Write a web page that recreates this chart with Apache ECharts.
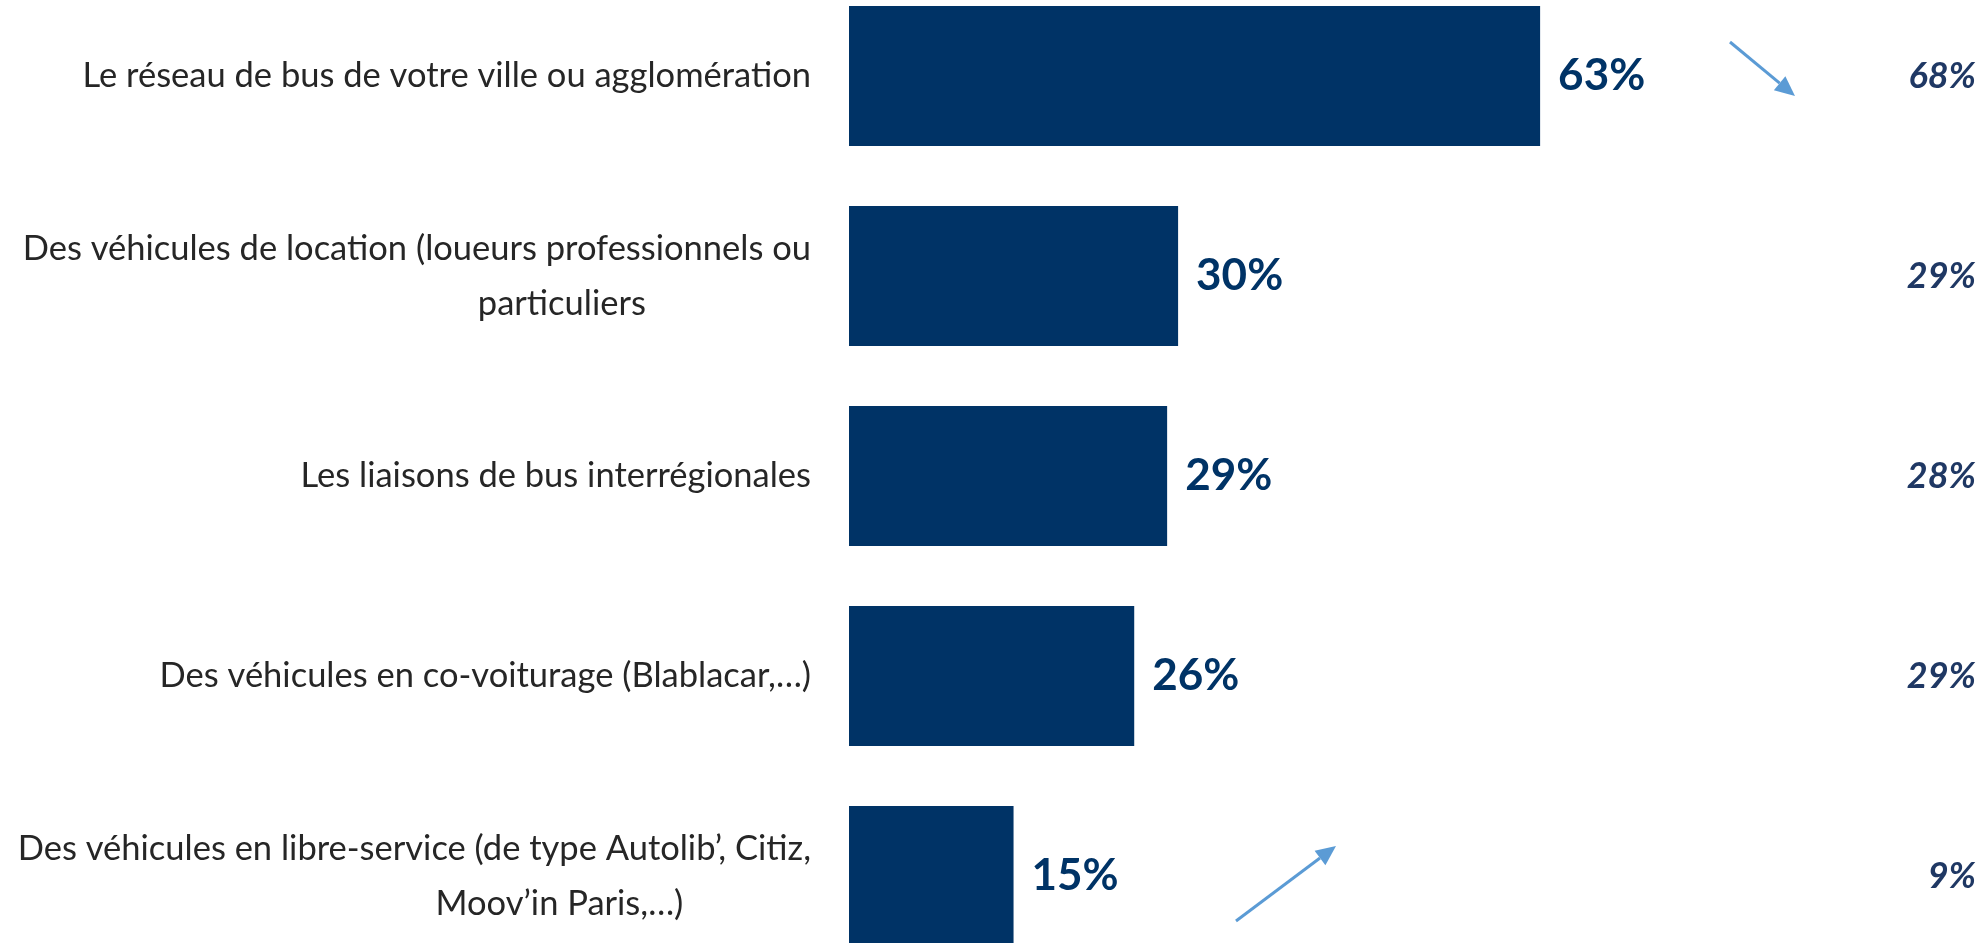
<!DOCTYPE html>
<html>
<head>
<meta charset="utf-8">
<script src="https://cdn.jsdelivr.net/npm/echarts@6/dist/echarts.min.js"></script>
<style>
  html, body { margin: 0; padding: 0; background: #fff; }
  #chart { width: 1986px; height: 943px; }
</style>
</head>
<body>
<div id="chart"></div>
<script>
const categories = [
  'Le réseau de bus de votre ville ou agglomération',
  'Des véhicules de location (loueurs professionnels ou\nparticuliers',
  'Les liaisons de bus interrégionales',
  'Des véhicules en co-voiturage (Blablacar,…)',
  'Des véhicules en libre-service (de type Autolib’, Citiz,\nMoov’in Paris,…)'
];
const current = [63, 30, 29, 26, 15];
const previous = [68, 29, 28, 29, 9];

const chart = echarts.init(document.getElementById('chart'));

// petite flèche (ligne + pointe)
function arrow(x1, y1, x2, y2) {
  const a = Math.atan2(y2 - y1, x2 - x1);
  const L = 20, W = 9;
  const bx = x2 - L * Math.cos(a), by = y2 - L * Math.sin(a);
  return [
    {
      type: 'line',
      shape: { x1: x1, y1: y1, x2: bx, y2: by },
      style: { stroke: '#5b9bd5', lineWidth: 3 }
    },
    {
      type: 'polygon',
      shape: {
        points: [
          [x2, y2],
          [bx + W * Math.sin(a), by - W * Math.cos(a)],
          [bx - W * Math.sin(a), by + W * Math.cos(a)]
        ]
      },
      style: { fill: '#5b9bd5' }
    }
  ];
}

const option = {
  backgroundColor: '#fff',
  animation: false,
  grid: { left: 849, top: -24, width: 1097, height: 1000, outerBoundsMode: 'none' },
  xAxis: { type: 'value', min: 0, max: 100, show: false },
  yAxis: [
    {
      type: 'category',
      data: categories,
      inverse: true,
      axisLine: { show: false },
      axisTick: { show: false },
      axisLabel: {
        margin: 38,
        fontFamily: 'Lato',
        fontSize: 34.5,
        color: '#262626',
        lineHeight: 55,
        formatter: function (value) {
          const parts = value.split('\n');
          if (parts.length === 1) return value;
          return parts[0] + '\n{l2|' + parts[1] + '}';
        },
        rich: {
          l2: {
            fontFamily: 'Lato',
            fontSize: 34.5,
            color: '#262626',
            lineHeight: 55,
            align: 'center',
            padding: [0, 0, 0, 290]
          }
        }
      }
    },
    {
      type: 'category',
      position: 'right',
      data: previous.map(v => v + '%'),
      inverse: true,
      axisLine: { show: false },
      axisTick: { show: false },
      axisLabel: {
        align: 'right',
        margin: 30,
        fontFamily: 'Lato',
        fontSize: 36,
        fontStyle: 'italic',
        fontWeight: 'bold',
        color: '#1f3864'
      }
    }
  ],
  series: [{
    type: 'bar',
    data: current,
    barWidth: 140,
    itemStyle: { color: '#003366' },
    label: {
      show: true,
      position: 'right',
      distance: 18,
      formatter: '{c}%',
      fontFamily: 'Lato',
      fontSize: 44,
      fontWeight: 'bold',
      color: '#003366'
    }
  }],
  graphic: [].concat(
    arrow(1730, 42, 1795, 96),
    arrow(1236, 921, 1336, 846)
  )
};

chart.setOption(option);
</script>
</body>
</html>
